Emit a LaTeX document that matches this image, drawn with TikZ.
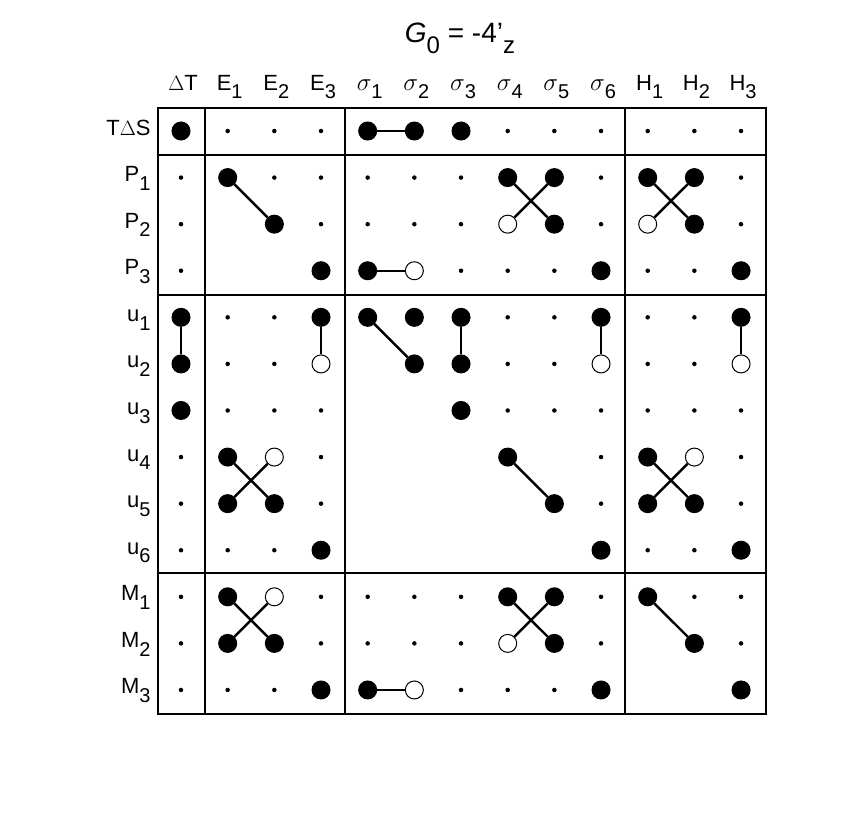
\documentclass[tikz,border=0pt]{standalone}
\usepackage{fontspec}
\setmainfont{Liberation Sans}
\newcommand{\sbs}[1]{\raisebox{-0.75ex}{\fontsize{20}{22}\selectfont #1}}
\newcommand{\tsbs}[1]{\raisebox{-0.75ex}{\fontsize{24}{26}\selectfont #1}}
\newcommand{\sg}{{\fontsize{24}{26}\selectfont$\sigma$}}
\begin{document}
\begin{tikzpicture}[x=1pt,y=-1pt,
  dotb/.style={circle,fill=black,draw=black,line width=1pt,minimum size=18pt,inner sep=0pt},
  doto/.style={circle,fill=white,draw=black,line width=1pt,minimum size=18pt,inner sep=0pt},
  dots/.style={circle,fill=black,minimum size=4.5pt,inner sep=0pt},
  dotn/.style={circle,minimum size=18pt,inner sep=0pt},
  lbl/.style={font=\fontsize{22}{26}\selectfont},
  frame/.style={line width=2.5pt},
  conn/.style={line width=2.4pt}]
\useasboundingbox (0,0) rectangle (856,812);
\node[font=\fontsize{28}{32}\selectfont,anchor=base] (title) at (460,42) {\textit{G}\tsbs{0} = -4'\tsbs{z}};
\foreach \h [count=\c from 0] in {$\Delta$T,E\sbs{1},E\sbs{2},E\sbs{3},\sg\sbs{1},\sg\sbs{2},\sg\sbs{3},\sg\sbs{4},\sg\sbs{5},\sg\sbs{6},H\sbs{1},H\sbs{2},H\sbs{3}}
  \node[lbl,anchor=base] (h\c) at ({183+46.67*\c},90) {\h};
\foreach \r/\lab/\codes in {
 0/T$\Delta$S/{b,s,s,s,b,b,b,s,s,s,s,s,s},
 1/P\sbs{1}/{s,b,s,s,s,s,s,b,b,s,b,b,s},
 2/P\sbs{2}/{s,n,b,s,s,s,s,o,b,s,o,b,s},
 3/P\sbs{3}/{s,n,n,b,b,o,s,s,s,b,s,s,b},
 4/u\sbs{1}/{b,s,s,b,b,b,b,s,s,b,s,s,b},
 5/u\sbs{2}/{b,s,s,o,n,b,b,s,s,o,s,s,o},
 6/u\sbs{3}/{b,s,s,s,n,n,b,s,s,s,s,s,s},
 7/u\sbs{4}/{s,b,o,s,n,n,n,b,n,s,b,o,s},
 8/u\sbs{5}/{s,b,b,s,n,n,n,n,b,s,b,b,s},
 9/u\sbs{6}/{s,s,s,b,n,n,n,n,n,b,s,s,b},
 10/M\sbs{1}/{s,b,o,s,s,s,s,b,b,s,b,s,s},
 11/M\sbs{2}/{s,b,b,s,s,s,s,o,b,s,n,b,s},
 12/M\sbs{3}/{s,s,s,b,b,o,s,s,s,b,n,n,b}}{
  \node[lbl,anchor=base east] (l\r) at (154,{135+46.58*\r}) {\lab};
  \foreach \t [count=\c from 0] in \codes
    \node[dot\t] (n\r-\c) at ({181+46.67*\c},{131+46.58*\r}) {};
}
\foreach \a/\b in {n0-4/n0-5, n1-1/n2-2, n1-7/n2-8, n1-8/n2-7, n1-10/n2-11, n1-11/n2-10,
  n3-4/n3-5, n4-0/n5-0, n4-3/n5-3, n4-4/n5-5, n4-6/n5-6, n4-9/n5-9, n4-12/n5-12,
  n7-1/n8-2, n7-2/n8-1, n7-7/n8-8, n7-10/n8-11, n7-11/n8-10,
  n10-1/n11-2, n10-2/n11-1, n10-7/n11-8, n10-8/n11-7, n10-10/n11-11, n12-4/n12-5}
  \draw[conn] (\a) -- (\b);
\draw[frame] (158,108) rectangle (766,714);
\foreach \x in {205,345,625} \draw[frame] (\x,108) -- (\x,714);
\foreach \y in {155,295,573} \draw[frame] (158,\y) -- (766,\y);
\end{tikzpicture}
\end{document}
